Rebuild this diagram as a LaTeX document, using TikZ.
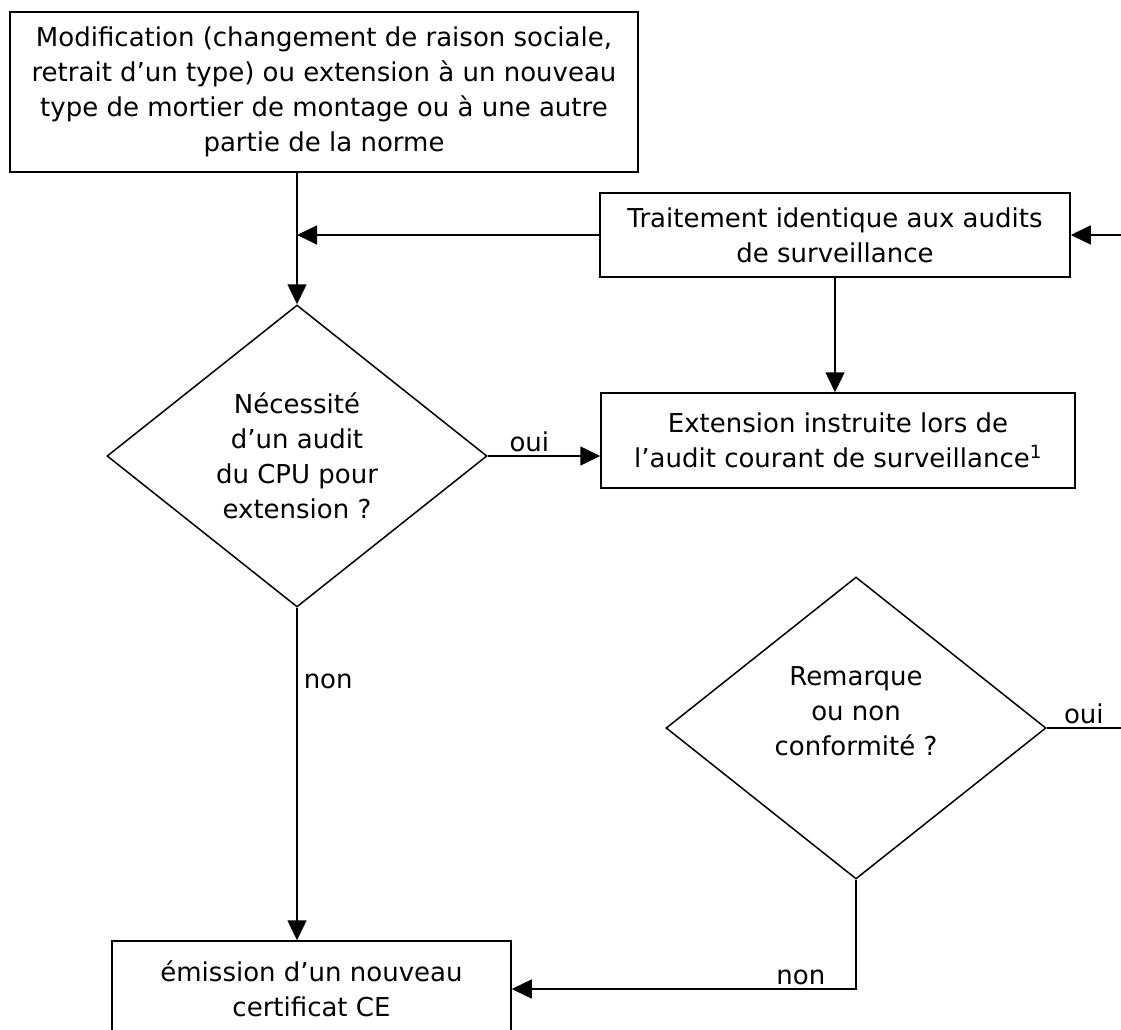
\documentclass[tikz,border=0pt]{standalone}
\usepackage{fontspec}
\setmainfont{DejaVu Sans}
\usetikzlibrary{shapes.geometric,arrows.meta}

\tikzset{
  box/.style={draw, line width=1.5pt, align=center, inner sep=0pt},
  ask/.style={draw, diamond, line width=1.5pt, align=center, inner sep=0pt,
    aspect=1.26, minimum width=380pt, minimum height=302pt},
  wire/.style={line width=1.5pt},
  flow/.style={wire, -{Triangle[length=20pt,width=19pt]}},
}

\begin{document}
\begin{tikzpicture}[x=1pt,y=-1pt,font=\fontsize{26}{35}\selectfont]
\useasboundingbox (0,0) rectangle (1121,1030);
\node[box, minimum width=628pt, minimum height=160pt] (modif) at (324,92)
  {Modification (changement de raison sociale,\\ retrait d’un type) ou extension à un nouveau\\ type de mortier de montage ou à une autre\\ partie de la norme};
\node[box, minimum width=470pt, minimum height=84pt] (trait) at (835,235)
  {Traitement identique aux audits\\ de surveillance};
\node[box, minimum width=474pt, minimum height=95pt] (ext) at (838,440.5)
  {Extension instruite lors de\\ l’audit courant de surveillance\textsuperscript{1}};
\node[box, minimum width=399pt, minimum height=96pt] (cert) at (311.5,989)
  {émission d’un nouveau\\ certificat CE};
\node[ask] (d1) at (297,456) {Nécessité\\ d’un audit\\ du CPU pour\\ extension ?};
\node[ask] (d2) at (856,728) {};
\node[align=center] (d2txt) at (856,711) {Remarque\\ ou non\\ conformité ?};
\coordinate (rin) at (1121,235);
\coordinate (rout) at (1121,728);

\draw[flow] (modif.south -| d1.north) -- (d1.north);
\draw[flow] (trait.west) -- (trait.west -| d1.north);
\draw[flow] (rin) -- (trait.east);
\draw[flow] (trait.south) -- (trait.south |- ext.north);
\draw[flow] (d1.east) -- node[above, pos=0.37, inner sep=3pt] {oui} (d1.east -| ext.west);
\draw[flow] (d1.south) -- node[right, pos=0.22, inner sep=6pt] {non} (d1.south |- cert.north);
\draw[wire] (d2.east) -- node[above, inner sep=3pt] {oui} (rout);
\draw[flow] (d2.south) |- node[above, pos=0.58, inner sep=3pt] {non} (cert.east);
\end{tikzpicture}
\end{document}
